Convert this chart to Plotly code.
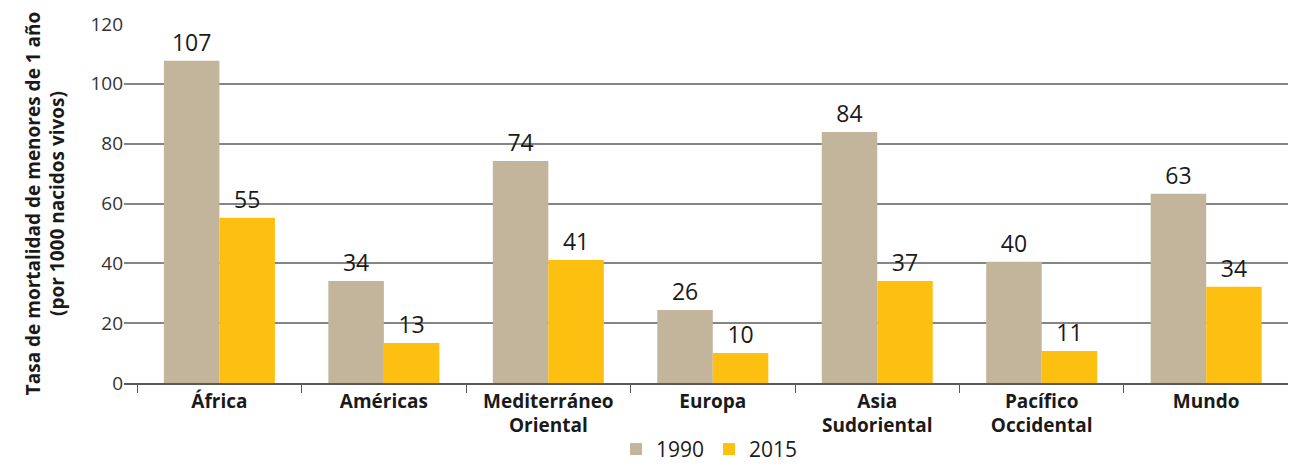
import plotly.graph_objects as go

regions = ['África', 'Américas', 'Mediterráneo<br>Oriental', 'Europa',
           'Asia<br>Sudoriental', 'Pacífico<br>Occidental', 'Mundo']
values_1990 = [107.7, 34.1, 74.2, 24.4, 83.9, 40.5, 63.3]
values_2015 = [55.2, 13.4, 41.1, 10.0, 34.1, 10.7, 32.2]
labels_1990 = ['107', '34', '74', '26', '84', '40', '63']
labels_2015 = ['55', '13', '41', '10', '37', '11', '34']

font_name = 'Open Sans'

fig = go.Figure()
fig.add_trace(go.Bar(x=regions, y=values_1990, name='1990',
                     marker=dict(color='#C2B59B', line=dict(width=0)),
                     text=labels_1990, textposition='outside',
                     textfont=dict(size=23, color='#1a1a1a'),
                     cliponaxis=False))
fig.add_trace(go.Bar(x=regions, y=values_2015, name='2015',
                     marker=dict(color='#FDC010', line=dict(width=0)),
                     text=labels_2015, textposition='outside',
                     textfont=dict(size=23, color='#1a1a1a'),
                     cliponaxis=False))

fig.update_layout(
    width=1288, height=459,
    margin=dict(l=116, r=1, t=16, b=84, autoexpand=False),
    paper_bgcolor='white', plot_bgcolor='white',
    font=dict(family=font_name, color='#1a1a1a'),
    barmode='group', bargap=0.325, bargroupgap=0,
    showlegend=True,
    legend=dict(orientation='h', x=0.5, xanchor='center', y=-0.185, yanchor='middle',
                font=dict(size=21), itemwidth=30, traceorder='normal'),
    xaxis=dict(type='category', range=[-0.58, 6.54],
               showline=True, linecolor='#595959', linewidth=1.5,
               ticks='outside', tickson='boundaries', ticklen=8, tickcolor='#595959',
               automargin=False,
               tickfont=dict(size=19, family=font_name, weight='bold', color='#1a1a1a')),
    yaxis=dict(range=[0, 120], dtick=20, showgrid=True, gridcolor='#858585', gridwidth=1.5,
               zeroline=False, ticks='', automargin=False,
               tickfont=dict(size=19, color='#333'),
               title=dict(text='Tasa de mortalidad de menores de 1 año<br>(por 1000 nacidos vivos)',
                          font=dict(size=19, weight='bold', color='#1a1a1a'), standoff=20)),
)

fig.write_html("out.html")
